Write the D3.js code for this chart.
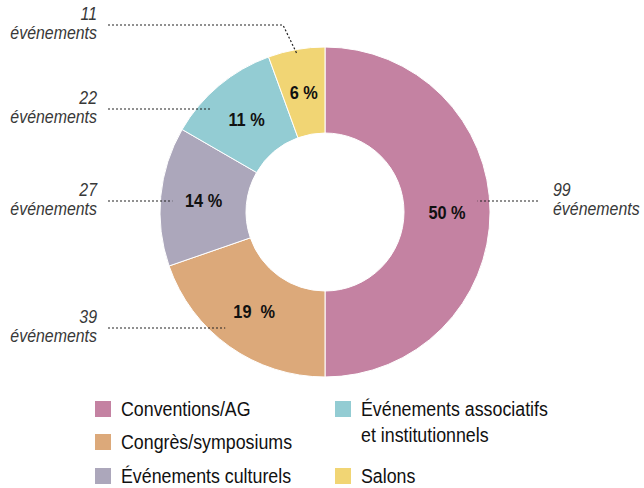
<!DOCTYPE html>
<html>
<head>
<meta charset="utf-8">
<script src="https://cdn.jsdelivr.net/npm/d3@7"></script>
<style>
  body { margin: 0; background: #fff; }
  svg text { font-family: "Liberation Sans", Arial, sans-serif; }
</style>
</head>
<body>
<svg id="chart" width="644" height="488"></svg>
<script>
// data
const categories = ["Conventions/AG", "Congrès/symposiums", "Événements culturels", "Événements associatifs et institutionnels", "Salons"];
const counts = [99, 39, 27, 22, 11];
const percentLabels = ["50 %", "19  %", "14 %", "11 %", "6 %"];
const colors = ["#c482a2", "#dca97a", "#aca7bb", "#93ccd3", "#f1d574"];

// layout
const cx = 325, cy = 212, outerR = 165, innerR = 79;
const labelY = [201, 328, 201, 109, 25];   // y of each leader line
const leaderR = 153;

const svg = d3.select("#chart");
const g = svg.append("g").attr("transform", `translate(${cx},${cy})`);

// condensed text helper (squeezes the font horizontally)
function ctext(parent, x, y, str, anchor, squeeze) {
  return parent.append("text")
    .attr("transform", `translate(${x},${y}) scale(${squeeze || 0.86},1)`)
    .attr("text-anchor", anchor || "start")
    .style("white-space", "pre")
    .text(str);
}

const pie = d3.pie().sort(null).value(d => d)(counts);
const arc = d3.arc().innerRadius(innerR).outerRadius(outerR);
const labelArc = d3.arc().innerRadius(122).outerRadius(122);

g.selectAll("path.slice")
  .data(pie)
  .join("path")
  .attr("class", "slice")
  .attr("d", arc)
  .attr("fill", (d, i) => colors[i])
  .attr("stroke", "#fff")
  .attr("stroke-width", 1);

// percent labels
pie.forEach((d, i) => {
  const [x, y] = labelArc.centroid(d);
  ctext(g, x, y + 7, percentLabels[i], "middle")
    .style("font-weight", "bold")
    .style("font-size", "19px")
    .style("fill", "#111");
});

// leader lines + count labels
pie.forEach((d, i) => {
  const mid = (d.startAngle + d.endAngle) / 2;
  const right = Math.sin(mid) > 0;
  const y = labelY[i] - cy;
  const pts = [];
  pts.push([right ? 538 - cx : 108 - cx, y]);
  if (Math.abs(y) < leaderR) {
    const dx = Math.sqrt(leaderR * leaderR - y * y);
    pts.push([right ? dx : -dx, y]);
  } else {
    // bend down into the slice
    pts.push([-42, y]);
    pts.push([Math.sin(mid) * 160, -Math.cos(mid) * 160]);
  }
  g.append("path")
    .attr("d", d3.line()(pts))
    .attr("fill", "none")
    .attr("stroke", "#222")
    .attr("stroke-width", 1.2)
    .attr("stroke-dasharray", "2,2");

  const tx = right ? 553 - cx : 97 - cx;
  const anchor = right ? "start" : "end";
  [[String(counts[i]), y - 5], ["événements", y + 14]].forEach(([s, ty]) => {
    ctext(g, tx, ty, s, anchor)
      .style("font-style", "italic")
      .style("font-size", "18.5px")
      .style("fill", "#383838");
  });
});

// legend
const legendPos = [[95, 416], [95, 449], [95, 483], [335, 416], [335, 483]];
categories.forEach((c, i) => {
  const [x, y] = legendPos[i];
  svg.append("rect")
    .attr("x", x).attr("y", y - 15)
    .attr("width", 16).attr("height", 16)
    .attr("fill", colors[i]);
  const lines = i === 3 ? ["Événements associatifs", "et institutionnels"] : [c];
  lines.forEach((s, k) => {
    ctext(svg, x + 26, y + k * 26, s, "start", 0.89)
      .style("font-size", "20px")
      .style("fill", "#111");
  });
});
</script>
</body>
</html>
